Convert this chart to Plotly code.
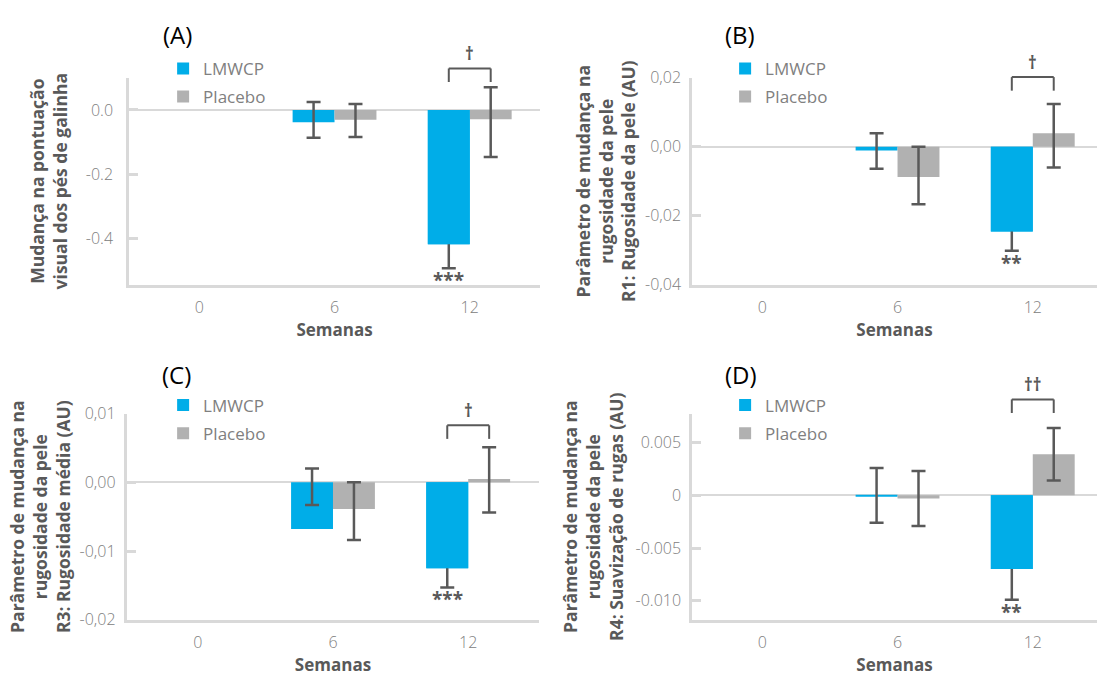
import plotly.graph_objects as go

# ---------------- data ----------------
weeks = ["0", "6", "12"]
series_names = ["LMWCP", "Placebo"]

# Panel A  (None in *_hi = upper arm hidden behind the bar)
a_lmwcp = [None, -0.0385, -0.417]
a_lmwcp_hi = [None, 0.0247, None]
a_lmwcp_lo = [None, -0.0866, -0.492]
a_placebo = [None, -0.0307, -0.029]
a_placebo_hi = [None, 0.0186, 0.071]
a_placebo_lo = [None, -0.0836, -0.146]
a_bracket = 0.129
a_sig = "***"
a_dagger = "†"
a_tickvals = [0.0, -0.2, -0.4]
a_ticktext = ["0.0", "-0.2", "-0.4"]

# Panel B
b_lmwcp = [None, -0.0011, -0.0246]
b_lmwcp_hi = [None, 0.0039, None]
b_lmwcp_lo = [None, -0.0064, -0.0302]
b_placebo = [None, -0.0088, 0.0039]
b_placebo_hi = [None, 0.0, 0.0124]
b_placebo_lo = [None, -0.0167, -0.0060]
b_bracket = 0.0202
b_sig = "**"
b_dagger = "†"
b_tickvals = [0.02, 0.0, -0.02, -0.04]
b_ticktext = ["0,02", "0,00", "-0,02", "-0,04"]

# Panel C
c_lmwcp = [None, -0.0068, -0.0125]
c_lmwcp_hi = [None, 0.0020, None]
c_lmwcp_lo = [None, -0.0033, -0.0153]
c_placebo = [None, -0.0039, 0.0005]
c_placebo_hi = [None, 0.0, 0.0051]
c_placebo_lo = [None, -0.0084, -0.0044]
c_bracket = 0.0083
c_sig = "***"
c_dagger = "†"
c_tickvals = [0.01, 0.0, -0.01, -0.02]
c_ticktext = ["0,01", "0,00", "-0,01", "-0,02"]

# Panel D
d_lmwcp = [None, -0.0001, -0.0070]
d_lmwcp_hi = [None, 0.0026, None]
d_lmwcp_lo = [None, -0.0026, -0.0099]
d_placebo = [None, -0.0003, 0.0039]
d_placebo_hi = [None, 0.0023, 0.0064]
d_placebo_lo = [None, -0.0029, 0.0014]
d_bracket = 0.0091
d_sig = "**"
d_dagger = "††"
d_tickvals = [0.005, 0.0, -0.005, -0.010]
d_ticktext = ["0.005", "0", "-0.005", "-0.010"]

panel_letters = ["(A)", "(B)", "(C)", "(D)"]
y_titles = [
    "Mudança na pontuação<br>visual dos pés de galinha",
    "Parâmetro de mudança na<br>rugosidade da pele<br>R1: Rugosidade da pele (AU)",
    "Parâmetro de mudança na<br>rugosidade da pele<br>R3: Rugosidade média (AU)",
    "Parâmetro de mudança na<br>rugosidade da pele<br>R4: Suavização de rugas (AU)",
]
x_title = "Semanas"

# ---------------- styling / layout ----------------
W_PX, H_PX = 1097, 686
BLUE = "#00ADE8"
GREY = "#B1B1B1"
EB = "#595959"
AX = "#D9D9D9"
TICK = "#808080"
TITLE = "#595959"
FONT = "Open Sans"
BAR_W = 0.31

panels = [
    dict(lm=a_lmwcp, lm_hi=a_lmwcp_hi, lm_lo=a_lmwcp_lo, pl=a_placebo, pl_hi=a_placebo_hi,
         pl_lo=a_placebo_lo, br=a_bracket, sig=a_sig, dag=a_dagger, tv=a_tickvals, tt=a_ticktext,
         xdom=[0.1176, 0.4923], ydom=[0.5880, 0.8994], xr=[-0.52, 2.52], yr=[-0.5425, 0.1],
         leg=(0.1487, 0.940), letter=(0.1465, 0.964), standoff=14, tls=10),
    dict(lm=b_lmwcp, lm_hi=b_lmwcp_hi, lm_lo=b_lmwcp_lo, pl=b_placebo, pl_hi=b_placebo_hi,
         pl_lo=b_placebo_lo, br=b_bracket, sig=b_sig, dag=b_dagger, tv=b_tickvals, tt=b_ticktext,
         xdom=[0.6308, 1.0], ydom=[0.5880, 0.8994], xr=[-0.52, 2.475], yr=[-0.04, 0.02],
         leg=(0.661, 0.940), letter=(0.659, 0.965), standoff=5, tls=5),
    dict(lm=c_lmwcp, lm_hi=c_lmwcp_hi, lm_lo=c_lmwcp_lo, pl=c_placebo, pl_hi=c_placebo_hi,
         pl_lo=c_placebo_lo, br=c_bracket, sig=c_sig, dag=c_dagger, tv=c_tickvals, tt=c_ticktext,
         xdom=[0.1162, 0.4909], ydom=[0.0833, 0.3936], xr=[-0.52, 2.52], yr=[-0.02, 0.01],
         leg=(0.1487, 0.433), letter=(0.1460, 0.453), standoff=5, tls=6),
    dict(lm=d_lmwcp, lm_hi=d_lmwcp_hi, lm_lo=d_lmwcp_lo, pl=d_placebo, pl_hi=d_placebo_hi,
         pl_lo=d_placebo_lo, br=d_bracket, sig=d_sig, dag=d_dagger, tv=d_tickvals, tt=d_ticktext,
         xdom=[0.6308, 1.0], ydom=[0.0833, 0.3936], xr=[-0.52, 2.475], yr=[-0.0118, 0.00775],
         leg=(0.661, 0.433), letter=(0.659, 0.453), standoff=8, tls=5),
]


def minus(vals, los):
    return [None if (v is None or l is None) else v - l for v, l in zip(vals, los)]


def plus(vals, his, los):
    # where the upper arm is hidden behind the bar, use the same length as the lower arm
    out = []
    for v, h, l in zip(vals, his, los):
        if v is None:
            out.append(None)
        elif h is None:
            out.append(None if l is None else v - l)
        else:
            out.append(h - v)
    return out


fig = go.Figure()
annotations = []
shapes = []
layout = {}
xs = list(range(len(weeks)))

for i, p in enumerate(panels):
    n = "" if i == 0 else str(i + 1)
    xa, ya, lg = "x" + n, "y" + n, "legend" + n
    err_common = dict(type="data", symmetric=False, color=EB, thickness=2.5, width=7)

    fig.add_trace(go.Bar(
        x=xs, y=p["lm"], offset=-BAR_W, width=BAR_W, name=series_names[0],
        marker=dict(color=BLUE, line=dict(width=0)), xaxis=xa, yaxis=ya,
        legend=lg, legendgroup="lm" + n,
        error_y=dict(array=plus(p["lm"], p["lm_hi"], p["lm_lo"]),
                     arrayminus=minus(p["lm"], p["lm_lo"]), **err_common),
    ))
    fig.add_trace(go.Bar(
        x=xs, y=p["pl"], offset=0, width=BAR_W, name=series_names[1],
        marker=dict(color=GREY, line=dict(width=0)), xaxis=xa, yaxis=ya,
        legend=lg, legendgroup="pl" + n,
        error_y=dict(array=plus(p["pl"], p["pl_hi"], p["pl_lo"]),
                     arrayminus=minus(p["pl"], p["pl_lo"]), **err_common),
    ))
    # the same bar drawn again on top where the upper error arm is hidden behind it
    cover = [v if (v is not None and h is None) else None for v, h in zip(p["lm"], p["lm_hi"])]
    fig.add_trace(go.Bar(
        x=xs, y=cover, offset=-BAR_W, width=BAR_W, name=series_names[0],
        marker=dict(color=BLUE, line=dict(width=0)), xaxis=xa, yaxis=ya,
        showlegend=False, hoverinfo="skip",
    ))

    # significance bracket between the two week-12 bars (may sit above the axis top)
    y0, y1 = p["yr"]
    span = y1 - y0
    h_px = (p["ydom"][1] - p["ydom"][0]) * H_PX
    yb = (p["br"] - y0) / span
    yt = yb - 14 / h_px
    xl = xs[-1] - BAR_W / 2
    xr_ = xs[-1] + BAR_W / 2
    for (sx0, sy0, sx1, sy1) in [(xl, yt, xl, yb), (xl, yb, xr_, yb), (xr_, yb, xr_, yt)]:
        shapes.append(dict(type="line", xref=xa, yref=ya + " domain", x0=sx0, y0=sy0, x1=sx1, y1=sy1,
                           line=dict(color=EB, width=2)))
    annotations.append(dict(
        x=xs[-1], y=yb, xref=xa, yref=ya + " domain", text=p["dag"], showarrow=False,
        yanchor="bottom", yshift=1, font=dict(family=FONT, size=17, color=EB, weight="bold"),
    ))
    annotations.append(dict(
        x=xl, y=p["lm_lo"][-1], xref=xa, yref=ya, text=p["sig"], showarrow=False,
        yanchor="top", yshift=3, font=dict(family=FONT, size=19, color=EB, weight="bold"),
    ))
    annotations.append(dict(
        x=p["letter"][0], y=p["letter"][1], xref="paper", yref="paper", text=panel_letters[i],
        showarrow=False, xanchor="left", yanchor="middle",
        font=dict(family=FONT, size=24, color="#000000"),
    ))

    layout["xaxis" + n] = dict(
        domain=p["xdom"], range=p["xr"], anchor=ya, tickmode="array", tickvals=xs, ticktext=weeks,
        showline=True, linecolor=AX, linewidth=2.5, ticks="", showgrid=False, zeroline=False,
        ticklabelstandoff=6,
        tickfont=dict(family=FONT, size=16, color=TICK, weight=300),
        title=dict(text=x_title, standoff=8, font=dict(family=FONT, size=17, color=TITLE, weight="bold")),
        fixedrange=True,
    )
    layout["yaxis" + n] = dict(
        domain=p["ydom"], range=p["yr"], anchor=xa, tickmode="array", tickvals=p["tv"], ticktext=p["tt"],
        ticks="inside", ticklen=9, tickwidth=2.5, tickcolor=AX,
        showline=True, linecolor=AX, linewidth=2.5, showgrid=False,
        zeroline=True, zerolinecolor=AX, zerolinewidth=2, ticklabelstandoff=p["tls"],
        tickfont=dict(family=FONT, size=16, color=TICK, weight=300),
        title=dict(text=y_titles[i], standoff=p["standoff"],
                   font=dict(family=FONT, size=17.5, color=TITLE, weight="bold")),
        fixedrange=True,
    )
    layout[lg] = dict(
        x=p["leg"][0], y=p["leg"][1], xanchor="left", yanchor="top",
        font=dict(family=FONT, size=17, color=TICK), bgcolor="rgba(0,0,0,0)",
        tracegroupgap=3, itemclick=False, itemdoubleclick=False,
    )

fig.update_layout(
    width=W_PX, height=H_PX, autosize=False,
    margin=dict(l=0, r=0, t=0, b=0),
    paper_bgcolor="white", plot_bgcolor="white",
    barmode="overlay", showlegend=True,
    font=dict(family=FONT, color=TICK),
    annotations=annotations, shapes=shapes,
    **layout,
)

fig.write_html("out.html", config={"displayModeBar": False},
               post_script="document.body.style.margin='0';document.body.style.overflow='hidden';")
